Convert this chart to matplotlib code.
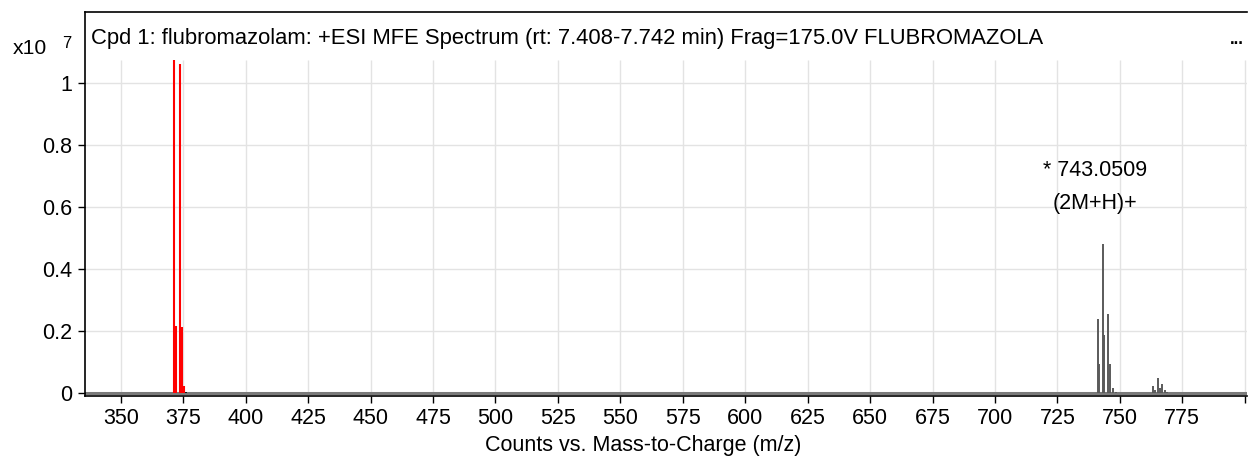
import numpy as np
import matplotlib.pyplot as plt

plt.rcParams['font.family'] = ['Liberation Sans', 'DejaVu Sans']

# Daten (Counts x10^7)
mz_red = [371.45, 372.2, 373.7, 374.4, 375.3]
int_red = [1.09, 0.216, 1.062, 0.212, 0.022]

mz_dimer = [741.1, 741.8, 743.1, 743.8, 745.2, 746.0, 747.4, 748.4]
int_dimer = [0.238, 0.094, 0.481, 0.187, 0.255, 0.094, 0.016, 0.003]

mz_na = [763.1, 763.9, 765.3, 766.0, 766.7, 768.1, 768.9]
int_na = [0.023, 0.010, 0.048, 0.016, 0.029, 0.010, 0.003]

x_ticks = list(range(350, 801, 25))
x_labels = [str(t) for t in x_ticks[:-1]] + ['']
y_ticks = [0, 0.2, 0.4, 0.6, 0.8, 1.0]
y_labels = ['0', '0.2', '0.4', '0.6', '0.8', '1']

title = 'Cpd 1: flubromazolam: +ESI MFE Spectrum (rt: 7.408-7.742 min) Frag=175.0V FLUBROMAZOLA'
W, H = 1249, 457
fs = 15.5

fig = plt.figure(figsize=(W / 100, H / 100), dpi=100)
ax = fig.add_axes([85 / W, (H - 396) / H, (1247 - 85) / W, (396 - 12) / H])
ax.set_xlim(335.7, 800.9)
ax.set_ylim(-0.0097, 1.2302)

grid_top = 1.075
grid_c = '#e3e3e3'
ax.vlines(x_ticks, 0, grid_top, color=grid_c, lw=1, zorder=0)
ax.hlines(y_ticks[1:], 335.7, 800.9, color=grid_c, lw=1, zorder=0)

# Grundlinie
ax.axhline(0, color='#7a7a7a', lw=2.2, zorder=1)

ax.vlines(mz_red, 0, np.minimum(int_red, grid_top), color='#ff0000', lw=1.5, zorder=2)
ax.vlines(376.3, 0, 0.003, color='black', lw=1.2, zorder=2)
ax.vlines(mz_dimer, 0, int_dimer, color='#5a5a5a', lw=1.4, zorder=2)
ax.vlines(mz_na, 0, int_na, color='#5a5a5a', lw=1.4, zorder=2)

ax.text(740.1, 0.72, '* 743.0509', ha='center', va='center', fontsize=fs)
ax.text(740.1, 0.613, '(2M+H)+', ha='center', va='center', fontsize=fs)

ax.set_xticks(x_ticks)
ax.set_xticklabels(x_labels)
ax.set_yticks(y_ticks)
ax.set_yticklabels(y_labels)
ax.tick_params(direction='out', length=5, width=1, labelsize=fs, pad=4)

ax.spines['right'].set_visible(False)
for s in ['left', 'top', 'bottom']:
    ax.spines[s].set_linewidth(1.2)

fig.text(91 / W, 1 - 38.5 / H, title, ha='left', va='center', fontsize=15.8)
fig.text(1237 / W, 1 - 40 / H, '...', ha='center', va='center', fontsize=12, fontweight='bold')
fig.text(29.7 / W, 1 - 49 / H, 'x10', ha='center', va='center', fontsize=15.2)
fig.text(67 / W, 1 - 43 / H, '7', ha='center', va='center', fontsize=12)
fig.text(643 / W, 1 - 446 / H, 'Counts vs. Mass-to-Charge (m/z)', ha='center', va='center', fontsize=fs)

fig.savefig('out.png', dpi=100)
